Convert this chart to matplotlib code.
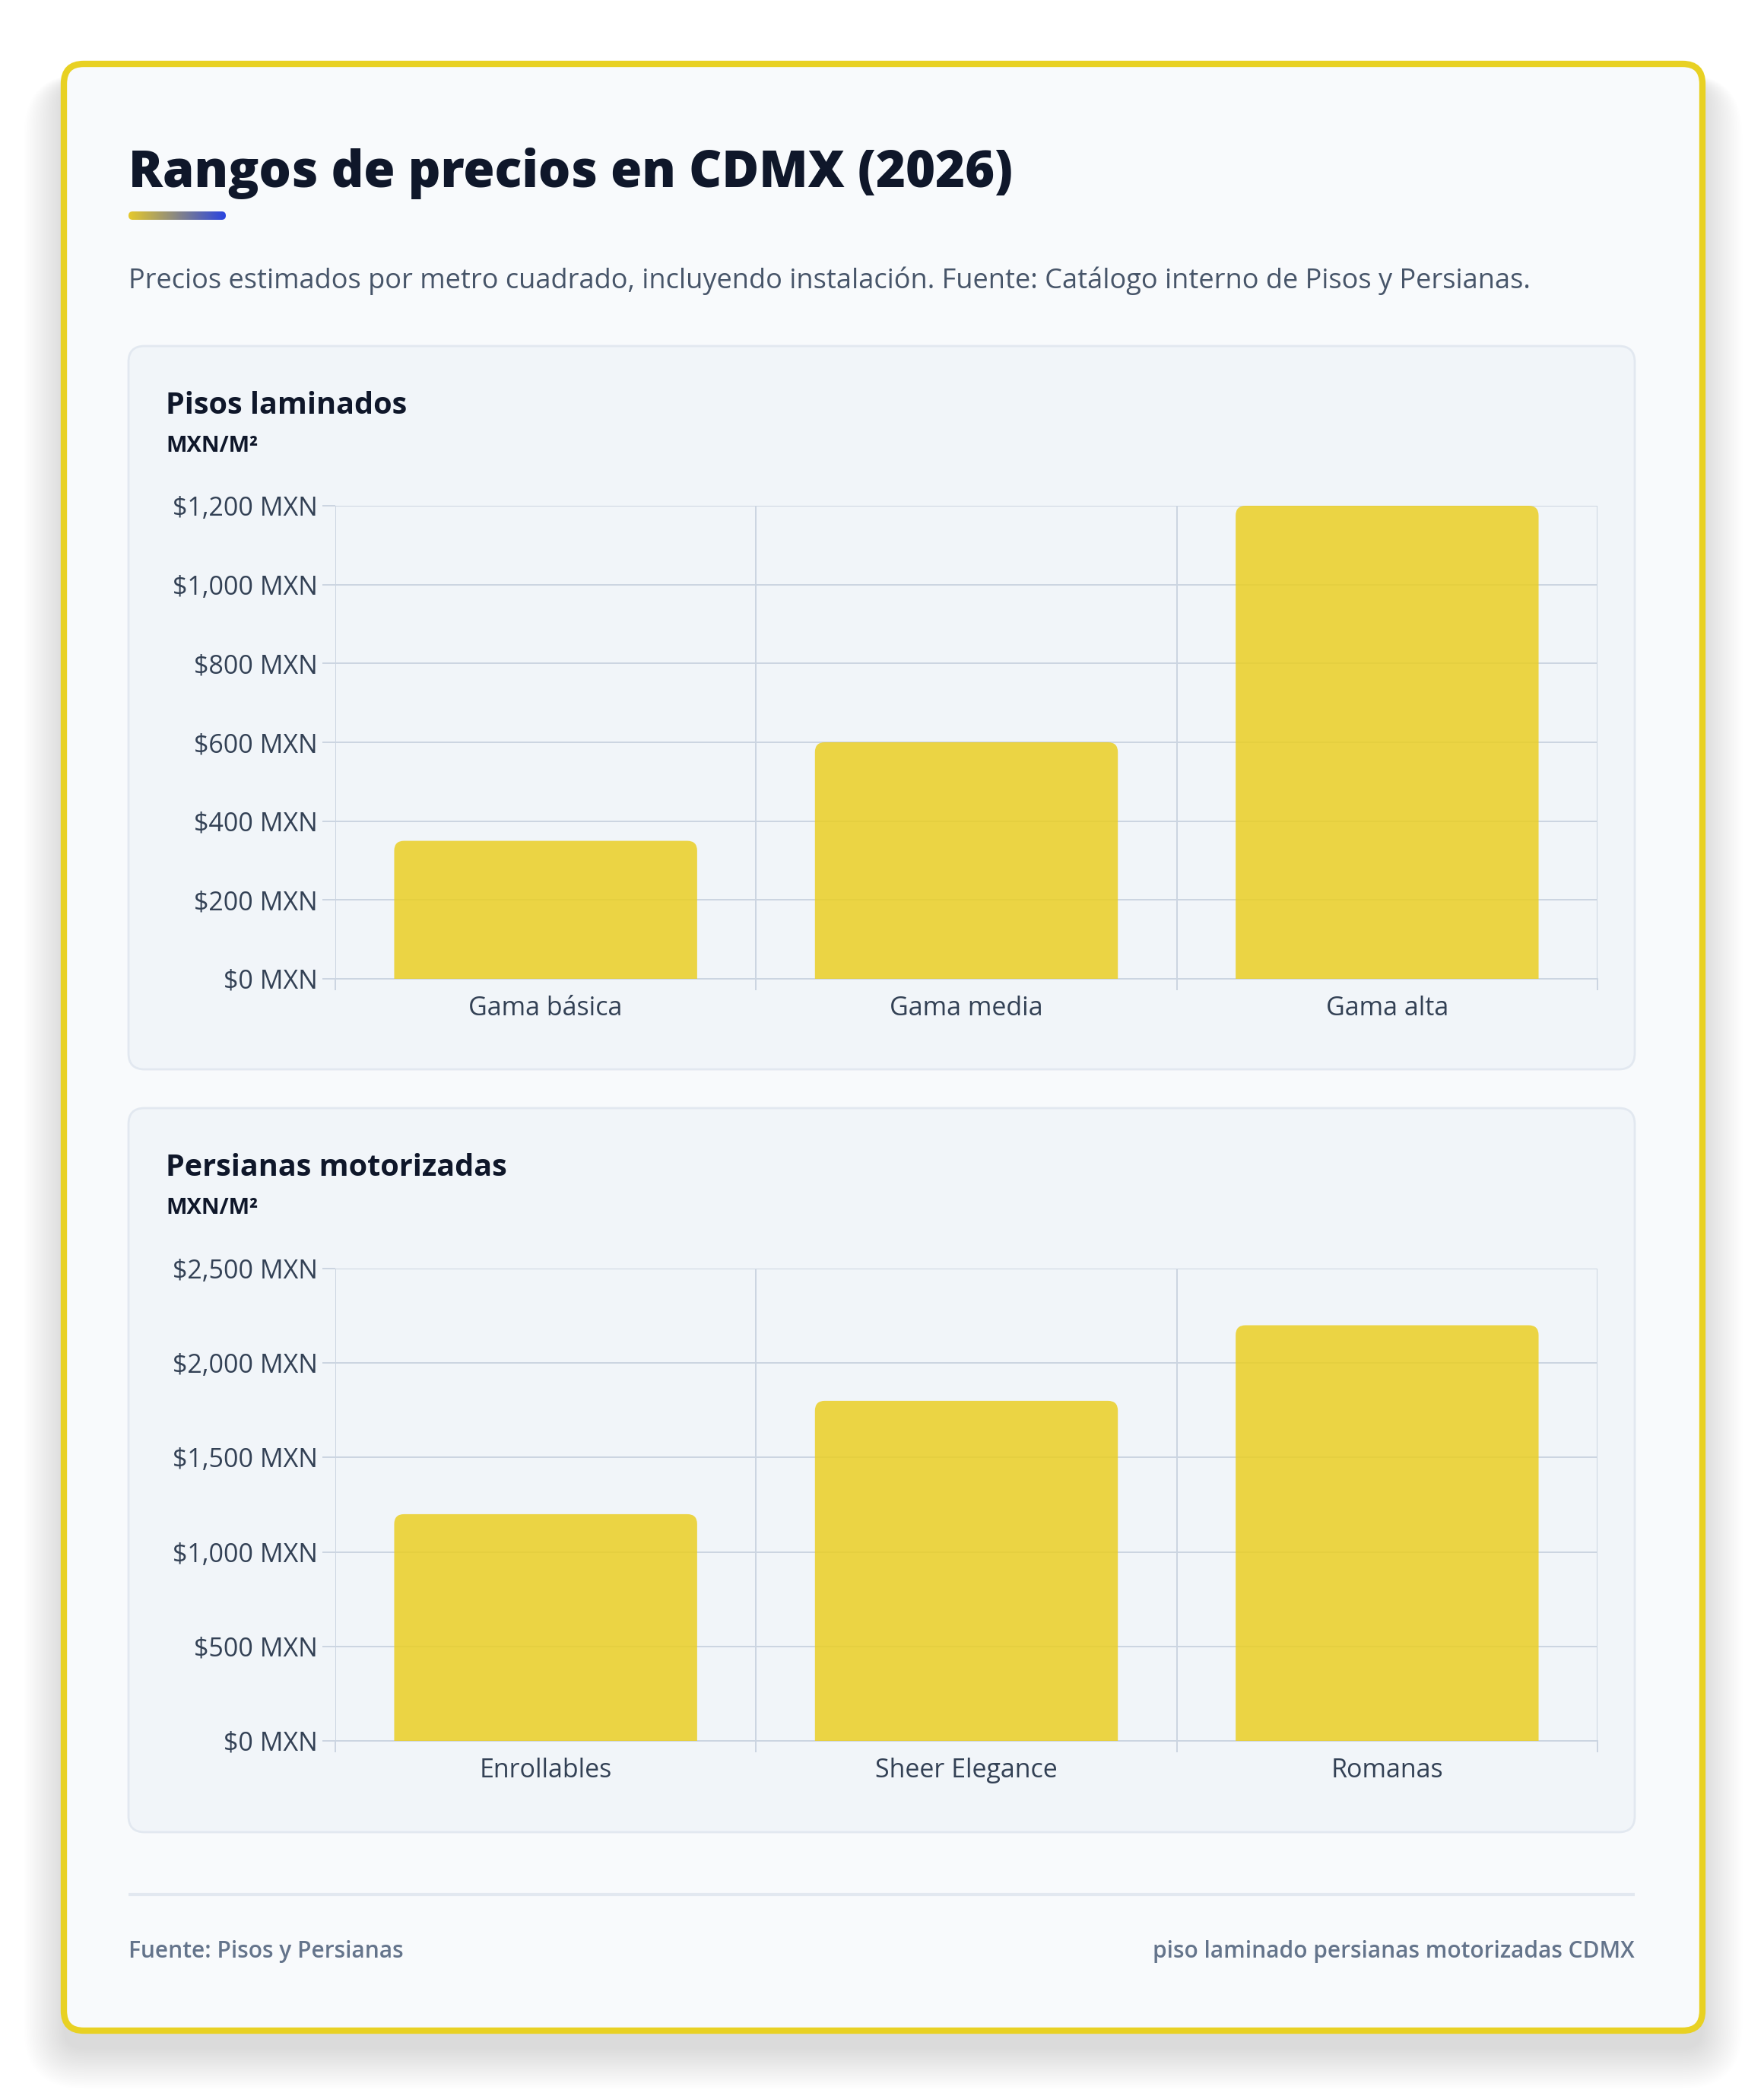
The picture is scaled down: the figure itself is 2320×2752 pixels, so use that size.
import matplotlib
matplotlib.use("Agg")
import matplotlib.pyplot as plt
import numpy as np
from matplotlib.patches import FancyBboxPatch, PathPatch
from matplotlib.path import Path
from matplotlib.colors import LinearSegmentedColormap

# data
pisos_cats = ["Gama básica", "Gama media", "Gama alta"]
pisos_vals = [350, 600, 1200]
pisos_ticks = [0, 200, 400, 600, 800, 1000, 1200]

persianas_cats = ["Enrollables", "Sheer Elegance", "Romanas"]
persianas_vals = [1200, 1800, 2200]
persianas_ticks = [0, 500, 1000, 1500, 2000, 2500]

title = "Rangos de precios en CDMX (2026)"
subtitle = ("Precios estimados por metro cuadrado, incluyendo instalación. "
            "Fuente: Catálogo interno de Pisos y Persianas.")
footer_left = "Fuente: Pisos y Persianas"
footer_right = "piso laminado persianas motorizadas CDMX"

W, H = 2320, 2752
DPI = 100
FONT = ["Open Sans", "DejaVu Sans"]
plt.rcParams["font.family"] = FONT

INK = "#0f172a"
GRID = "#cbd5e1"
BAR = "#eacf24"

fig = plt.figure(figsize=(W / DPI, H / DPI), dpi=DPI)
fig.patch.set_facecolor("white")

bg = fig.add_axes([0, 0, 1, 1])
bg.set_xlim(0, W)
bg.set_ylim(H, 0)
bg.axis("off")

# card shadow, soft and mostly below the card
for i in range(36):
    grow = i * 1.5
    sh = FancyBboxPatch((84 - grow, 84 + 24 - grow * 0.2), 2155 + 2 * grow,
                        2586 + 1.2 * grow,
                        boxstyle="round,pad=0,rounding_size=%f" % (26 + grow),
                        facecolor="black", edgecolor="none", alpha=0.0045, zorder=1)
    bg.add_patch(sh)

# card
card = FancyBboxPatch((84, 84), 2155, 2586, boxstyle="round,pad=0,rounding_size=26",
                      facecolor="#f8fafc", edgecolor="#e8d123", linewidth=6, zorder=2)
bg.add_patch(card)

# title and underline
bg.text(169, 246, title, fontsize=48, fontweight="heavy", color=INK, va="baseline",
        ha="left", zorder=5)
cmap = LinearSegmentedColormap.from_list("acc", ["#e5c92b", "#2a44e0"])
grad = np.linspace(0, 1, 256).reshape(1, -1)
im = bg.imshow(grad, cmap=cmap, extent=[169, 297, 289, 278], aspect="auto", zorder=5)
clip = FancyBboxPatch((169, 278), 128, 11, boxstyle="round,pad=0,rounding_size=5.5",
                      facecolor="none", edgecolor="none", transform=bg.transData)
bg.add_patch(clip)
im.set_clip_path(clip)
bg.set_xlim(0, W)
bg.set_ylim(H, 0)

bg.text(169, 369, subtitle, fontsize=26, color="#475569", va="center", ha="left", zorder=5)

# panels
panels = [(455, 1406), (1457, 2409)]
for top, bottom in panels:
    p = FancyBboxPatch((169, top), 1981, bottom - top, boxstyle="round,pad=0,rounding_size=21",
                       facecolor="#f1f5f9", edgecolor="#e2e8f0", linewidth=2, zorder=3)
    bg.add_patch(p)

bg.text(218, 534, "Pisos laminados", fontsize=28.5, fontweight="bold", color=INK,
        va="center", zorder=5)
bg.text(218, 587, "MXN/M²", fontsize=21, fontweight="bold", color=INK, va="center", zorder=5)
bg.text(218, 1536, "Persianas motorizadas", fontsize=28.5, fontweight="bold", color=INK,
        va="center", zorder=5)
bg.text(218, 1589, "MXN/M²", fontsize=21, fontweight="bold", color=INK, va="center", zorder=5)

# footer
bg.plot([169, 2150], [2491, 2491], color="#e2e8f0", linewidth=3, zorder=5,
        solid_capstyle="butt")
bg.text(169, 2566, footer_left, fontsize=21.5, fontweight="semibold", color="#64748b",
        va="center", ha="left", zorder=5)
bg.text(2150, 2566, footer_right, fontsize=21.5, fontweight="semibold", color="#64748b",
        va="center", ha="right", zorder=5)


def money(v):
    return "${:,.0f} MXN".format(v)


def bar_chart(rect_px, cats, vals, ticks):
    left, top, right, bottom = rect_px
    ax = fig.add_axes([left / W, 1 - bottom / H, (right - left) / W, (bottom - top) / H])
    ax.set_facecolor("none")
    x = np.arange(len(cats))
    ax.set_xlim(-0.5, len(cats) - 0.5)
    ax.set_ylim(0, ticks[-1])
    bars = ax.bar(x, vals, width=0.72, color=BAR, alpha=0.85, zorder=3)

    # round the top corners of each bar
    px_w, px_h = right - left, bottom - top
    r = 13
    rx = r * len(cats) / px_w
    ry = r * ticks[-1] / px_h
    for b in bars:
        x0, w, h = b.get_x(), b.get_width(), b.get_height()
        x1 = x0 + w
        verts = [(x0, 0), (x0, h - ry), (x0, h), (x0 + rx, h), (x1 - rx, h),
                 (x1, h), (x1, h - ry), (x1, 0), (x0, 0)]
        codes = [Path.MOVETO, Path.LINETO, Path.CURVE3, Path.CURVE3, Path.LINETO,
                 Path.CURVE3, Path.CURVE3, Path.LINETO, Path.CLOSEPOLY]
        ax.add_patch(PathPatch(Path(verts, codes), facecolor=BAR, edgecolor="none",
                               alpha=0.85, zorder=3))
        b.set_visible(False)

    ax.set_yticks(ticks)
    ax.set_yticklabels([money(t) for t in ticks])
    ax.set_xticks(x)
    ax.set_xticklabels(cats)
    ax.set_xticks(np.arange(len(cats) + 1) - 0.5, minor=True)
    ax.grid(True, axis="y", which="major", color=GRID, linewidth=1.4, zorder=0)
    ax.grid(True, axis="x", which="minor", color=GRID, linewidth=1.4, zorder=0)
    ax.grid(False, axis="x", which="major")
    ax.set_axisbelow(True)
    for s in ["top", "right", "left"]:
        ax.spines[s].set_visible(False)
    ax.spines["bottom"].set_color(GRID)
    ax.spines["bottom"].set_linewidth(1.4)
    ax.tick_params(axis="y", length=12, width=1.4, color=GRID, pad=5,
                   labelsize=24.5, labelcolor="#334155")
    ax.tick_params(axis="x", which="major", length=0, pad=16,
                   labelsize=24.5, labelcolor="#334155")
    ax.tick_params(axis="x", which="minor", length=11, width=1.4, color=GRID)
    return ax


bar_chart((441, 665, 2101, 1287), pisos_cats, pisos_vals, pisos_ticks)
bar_chart((441, 1668, 2101, 2289), persianas_cats, persianas_vals, persianas_ticks)

fig.savefig("out.png", dpi=DPI, facecolor="white")
